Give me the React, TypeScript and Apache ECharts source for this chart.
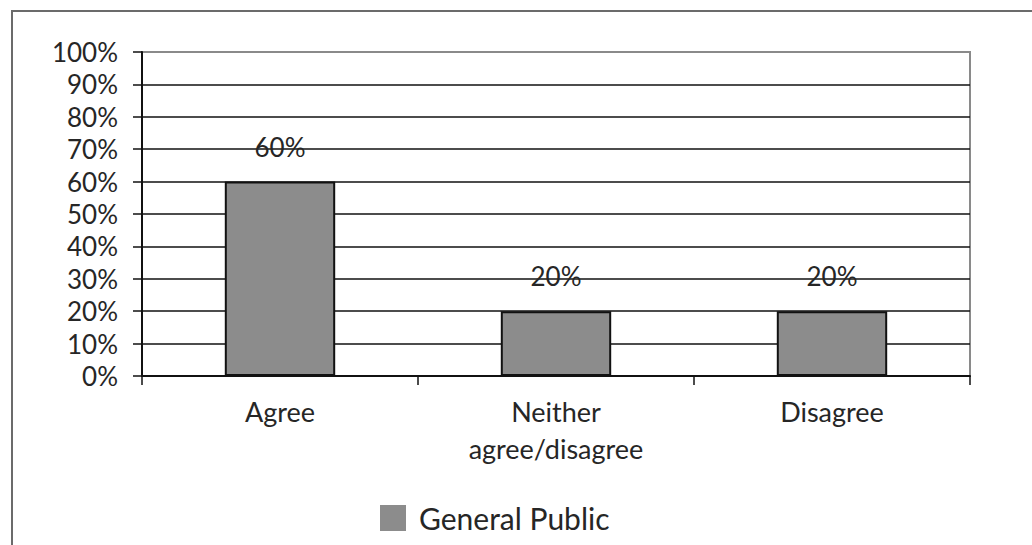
import React, { useEffect, useRef } from "react";
import * as echarts from "echarts";

const categories = ["Agree", "Neither\nagree/disagree", "Disagree"];
const seriesName = "General Public";
const values = [60, 20, 20];
const yTicks = [0, 10, 20, 30, 40, 50, 60, 70, 80, 90, 100];

const FONT = "Lato, 'Open Sans', sans-serif";
const TEXT = "#262626";

export default function App() {
  const ref = useRef<HTMLDivElement>(null);

  useEffect(() => {
    if (!ref.current) return;
    const chart = echarts.init(ref.current, null, { renderer: "svg" });
    // every gridline black except the top one, which is part of the grey plot frame
    const splitColors = yTicks.map((_, i) => (i === yTicks.length - 1 ? "#8a8a8a" : "#111"));
    chart.setOption({
      animation: false,
      backgroundColor: "#fff",
      textStyle: { fontFamily: FONT },
      grid: {
        left: 142,
        top: 52,
        right: 62,
        bottom: 169,
        show: true,
        borderColor: "#8a8a8a",
        borderWidth: 2,
        backgroundColor: "transparent",
      },
      legend: {
        data: [seriesName],
        left: 380,
        top: 503,
        padding: 0,
        icon: "rect",
        itemWidth: 26,
        itemHeight: 26,
        itemGap: 12,
        itemStyle: { borderWidth: 0 },
        textStyle: { fontFamily: FONT, fontSize: 30, color: TEXT, padding: [0, 0, 0, 8] },
      },
      xAxis: {
        type: "category",
        data: categories,
        axisLine: { lineStyle: { color: "#111", width: 2 } },
        axisTick: { show: true, length: 9, lineStyle: { color: "#111", width: 1.5 } },
        axisLabel: {
          fontFamily: FONT,
          fontSize: 27,
          color: TEXT,
          lineHeight: 37,
          margin: 17,
        },
      },
      yAxis: {
        type: "value",
        min: 0,
        max: 100,
        interval: 10,
        axisLine: { show: true, lineStyle: { color: "#111", width: 2 } },
        axisTick: { show: true, length: 9, lineStyle: { color: "#111", width: 1.5 } },
        axisLabel: {
          fontFamily: FONT,
          fontSize: 26,
          color: TEXT,
          margin: 24,
          formatter: "{value}%",
        },
        splitLine: { show: true, lineStyle: { color: splitColors, width: 1.5 } },
      },
      graphic: [
        {
          type: "rect",
          silent: true,
          shape: { x: 12, y: 11, width: 1200, height: 700 },
          style: { fill: "none", stroke: "#6b6b6b", lineWidth: 2 },
        },
      ],
      series: [
        {
          name: seriesName,
          type: "bar",
          data: values,
          barWidth: "40%",
          itemStyle: { color: "#8c8c8c", borderColor: "#111", borderWidth: 2 },
          label: {
            show: true,
            position: "top",
            distance: 22,
            fontFamily: FONT,
            fontSize: 26,
            color: TEXT,
            formatter: "{c}%",
          },
        },
      ],
    });
    return () => chart.dispose();
  }, []);

  return (
    <div
      ref={ref}
      style={{ position: "fixed", left: 0, top: 0, width: 1032, height: 545, background: "#fff" }}
    />
  );
}
